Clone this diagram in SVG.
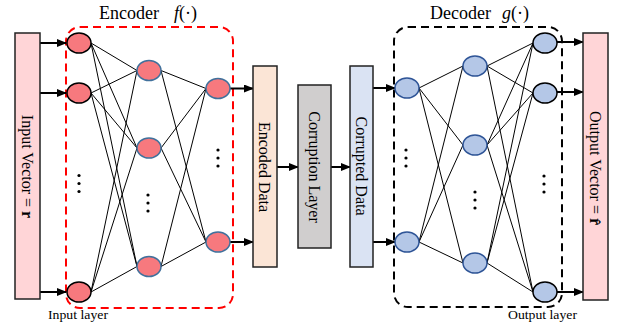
<svg xmlns="http://www.w3.org/2000/svg" width="620" height="326" viewBox="0 0 620 326">
<defs>
<marker id="ah" markerWidth="10" markerHeight="8" refX="9" refY="4" orient="auto" markerUnits="userSpaceOnUse">
<path d="M0,0 L10,4 L0,8 Z" fill="#000"/>
</marker>
<style>
text{font-family:"Liberation Serif","Times New Roman",serif;fill:#000}
.box{stroke:#222;stroke-width:1.5}
.lbl{font-size:16px}
.ttl{font-size:18px}
.sm{font-size:12px}
.nin{fill:#F7797E;stroke:#000;stroke-width:1.5}
.nh{fill:#F7797E;stroke:#41719C;stroke-width:1.5}
.nb{fill:#B4C7E7;stroke:#2F5597;stroke-width:1.5}
.nbo{fill:#B4C7E7;stroke:#000;stroke-width:1.5}
.arr{stroke:#000;stroke-width:2;fill:none;marker-end:url(#ah)}
.edge{stroke:#000;stroke-width:1;fill:none}
.dot{fill:#000}
</style>
</defs>
<rect width="620" height="326" fill="#fff"/>

<!-- containers -->
<g id="encoder">
<rect x="66" y="27" width="167" height="281" rx="14" fill="none" stroke="#FF0000" stroke-width="2" stroke-dasharray="8,5"/>
<text class="ttl" x="99" y="19">Encoder<tspan x="174" font-style="italic">f</tspan><tspan>(·)</tspan></text>
</g>
<g id="decoder">
<rect x="394" y="27" width="168" height="280" rx="14" fill="none" stroke="#000" stroke-width="2" stroke-dasharray="8,5"/>
<text class="ttl" x="430" y="19">Decoder<tspan x="502" font-style="italic">g</tspan><tspan>(·)</tspan></text>
</g>

<!-- connectors -->
<g id="connectors">
<path class="edge" d="M91,43 L137,70.5 M91,43 L137,148 M91,43 L137,266.5 M91,93 L137,70.5 M91,93 L137,148 M91,93 L137,266.5 M91,292 L137,70.5 M91,292 L137,148 M91,292 L137,266.5 M161,70.5 L206,88.5 M161,70.5 L206,242 M161,148 L206,88.5 M161,148 L206,242 M161,266.5 L206,88.5 M161,266.5 L206,242"/>
<path class="edge" d="M419,88 L463,66 M419,88 L463,145 M419,88 L463,263 M419,242 L463,66 M419,242 L463,145 M419,242 L463,263 M487,66 L533,43 M487,66 L533,93 M487,66 L533,292 M487,145 L533,43 M487,145 L533,93 M487,145 L533,292 M487,263 L533,43 M487,263 L533,93 M487,263 L533,292"/>
<path class="arr" d="M40,43 L66,43"/>
<path class="arr" d="M40,93 L66,93"/>
<path class="arr" d="M40,292 L66,292"/>
<path class="arr" d="M230,88.5 L253,88.5"/>
<path class="arr" d="M230,242 L253,242"/>
<path class="arr" d="M277,167 L298,167"/>
<path class="arr" d="M331,167 L350,167"/>
<path class="arr" d="M373,88 L395,88"/>
<path class="arr" d="M373,242 L395,242"/>
<path class="arr" d="M557,42 L583,42"/>
<path class="arr" d="M557,92 L583,92"/>
<path class="arr" d="M557,292 L583,292"/>
</g>

<!-- boxes -->
<g id="input-vector">
<rect class="box" x="15" y="33" width="25" height="266" fill="#FFD5D7"/>
<text class="lbl" transform="translate(27.5,166.5) rotate(90)" text-anchor="middle" dy="0.35em">Input Vector = <tspan font-weight="bold">r</tspan></text>
</g>
<g id="encoded-data">
<rect class="box" x="253" y="66" width="24" height="201" fill="#FBE5D6"/>
<text class="lbl" transform="translate(265,167) rotate(90)" text-anchor="middle" dy="0.35em">Encoded Data</text>
</g>
<g id="corruption-layer">
<rect class="box" x="298" y="85" width="33" height="163" fill="#D0CECE"/>
<text class="lbl" transform="translate(314.5,167) rotate(90)" text-anchor="middle" dy="0.35em">Corruption Layer</text>
</g>
<g id="corrupted-data">
<rect class="box" x="350" y="66" width="23" height="201" fill="#DAE3F3"/>
<text class="lbl" transform="translate(361.5,166) rotate(90)" text-anchor="middle" dy="0.35em">Corrupted Data</text>
</g>
<g id="output-vector">
<rect class="box" x="583" y="33" width="25" height="267" fill="#FFD5D7"/>
<text class="lbl" transform="translate(595.5,168) rotate(90)" text-anchor="middle" dy="0.35em">Output Vector = <tspan font-weight="bold">r̂</tspan></text>
</g>

<!-- encoder nodes -->
<g id="enc-in-1"><ellipse class="nin" cx="79" cy="43" rx="12" ry="10"/></g>
<g id="enc-in-2"><ellipse class="nin" cx="79" cy="93" rx="12" ry="10"/></g>
<g id="enc-in-3"><ellipse class="nin" cx="79" cy="292" rx="12" ry="10"/></g>
<g id="enc-h1-1"><ellipse class="nh" cx="149" cy="70.5" rx="12" ry="10"/></g>
<g id="enc-h1-2"><ellipse class="nh" cx="149" cy="148" rx="12" ry="10"/></g>
<g id="enc-h1-3"><ellipse class="nh" cx="149" cy="266.5" rx="12" ry="10"/></g>
<g id="enc-h2-1"><ellipse class="nh" cx="218" cy="88.5" rx="12" ry="10"/></g>
<g id="enc-h2-2"><ellipse class="nh" cx="218" cy="242" rx="12" ry="10"/></g>

<!-- decoder nodes -->
<g id="dec-h1-1"><ellipse class="nb" cx="407" cy="88" rx="12" ry="10"/></g>
<g id="dec-h1-2"><ellipse class="nb" cx="407" cy="242" rx="12" ry="10"/></g>
<g id="dec-h2-1"><ellipse class="nb" cx="475" cy="66" rx="12" ry="10"/></g>
<g id="dec-h2-2"><ellipse class="nb" cx="475" cy="145" rx="12" ry="10"/></g>
<g id="dec-h2-3"><ellipse class="nb" cx="475" cy="263" rx="12" ry="10"/></g>
<g id="dec-out-1"><ellipse class="nbo" cx="545" cy="43" rx="12" ry="10"/></g>
<g id="dec-out-2"><ellipse class="nbo" cx="545" cy="93" rx="12" ry="10"/></g>
<g id="dec-out-3"><ellipse class="nbo" cx="545" cy="292" rx="12" ry="10"/></g>

<!-- ellipsis dots -->
<g id="dots">
<circle class="dot" cx="79" cy="175.5" r="1.6"/><circle class="dot" cx="79" cy="183.5" r="1.6"/><circle class="dot" cx="79" cy="191.5" r="1.6"/>
<circle class="dot" cx="148" cy="195" r="1.6"/><circle class="dot" cx="148" cy="203" r="1.6"/><circle class="dot" cx="148" cy="211" r="1.6"/>
<circle class="dot" cx="218" cy="150" r="1.6"/><circle class="dot" cx="218" cy="158" r="1.6"/><circle class="dot" cx="218" cy="166" r="1.6"/>
<circle class="dot" cx="406" cy="150" r="1.6"/><circle class="dot" cx="406" cy="158" r="1.6"/><circle class="dot" cx="406" cy="166" r="1.6"/>
<circle class="dot" cx="475" cy="192" r="1.6"/><circle class="dot" cx="475" cy="200" r="1.6"/><circle class="dot" cx="475" cy="208" r="1.6"/>
<circle class="dot" cx="544" cy="176" r="1.6"/><circle class="dot" cx="544" cy="184" r="1.6"/><circle class="dot" cx="544" cy="192" r="1.6"/>
</g>

<text class="sm" x="48" y="319" textLength="60" lengthAdjust="spacingAndGlyphs">Input layer</text>
<text class="sm" x="508" y="319" textLength="69" lengthAdjust="spacingAndGlyphs">Output layer</text>
</svg>
